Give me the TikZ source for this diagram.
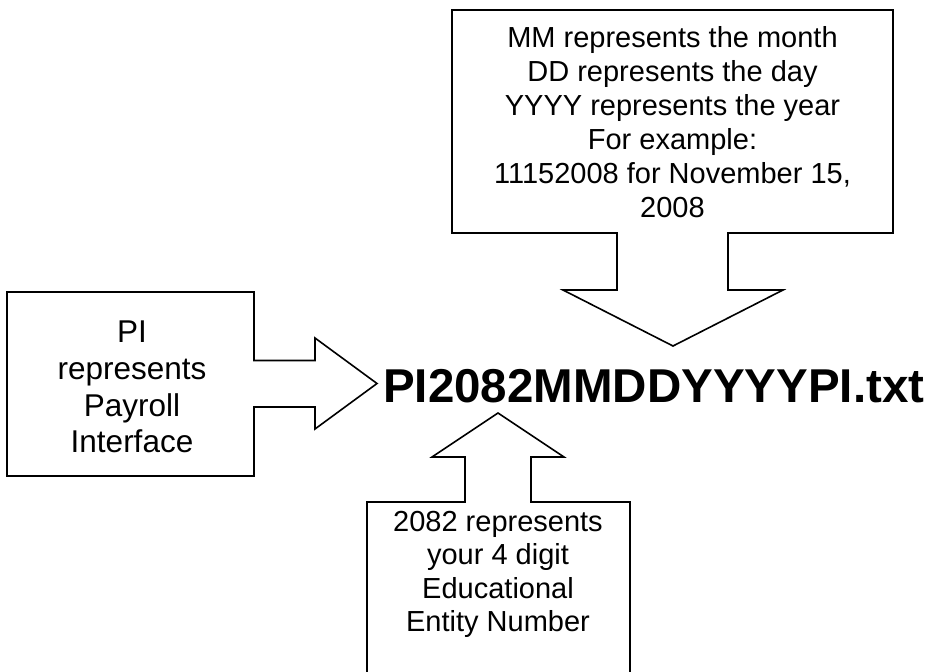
\documentclass[tikz,border=0pt]{standalone}
\usepackage{fontspec}
\setmainfont{Liberation Sans}
\tikzset{
  callout/.style={draw=black, line width=1.6pt, fill=white, line join=miter},
  txt/.style={inner sep=0pt, align=center, anchor=north},
}
\begin{document}
\begin{tikzpicture}[x=1pt,y=-1pt]
\useasboundingbox (0,0) rectangle (930,672);
\clip (0,0) rectangle (930,672);
% left callout
\draw[callout] (7,292) -- (254,292) -- (254,360.5) -- (315,360.5) -- (315,338)
  -- (377,383.5) -- (315,429) -- (315,407) -- (254,407) -- (254,476) -- (7,476) -- cycle;
% top callout
\draw[callout] (452,10) -- (893,10) -- (893,233) -- (728,233) -- (728,290) -- (783,290)
  -- (673,346) -- (563,290) -- (617,290) -- (617,233) -- (452,233) -- cycle;
% bottom callout
\draw[callout] (367,700) -- (367,502) -- (465,502) -- (465,457) -- (432,457)
  -- (498,413) -- (564,457) -- (531,457) -- (531,502) -- (630,502) -- (630,700) -- cycle;
% texts
\node[txt, font=\fontsize{31.5}{36.7}\selectfont] (pi) at (132,321)
  {PI\\represents\\Payroll\\Interface};
\node[txt, font=\fontsize{29}{34}\selectfont] (mm) at (672.5,26)
  {MM represents the month\\DD represents the day\\YYYY represents the year\\For example:\\11152008 for November 15,\\2008};
\node[txt, font=\fontsize{29}{33.4}\selectfont] (een) at (498,511)
  {2082 represents\\your 4 digit\\Educational\\Entity Number};
\node[inner sep=0pt, anchor=base west, font=\bfseries\fontsize{47.5}{52}\selectfont] (fname) at (383,402)
  {PI2082MMDDYYYYPI.txt};
\end{tikzpicture}
\end{document}
